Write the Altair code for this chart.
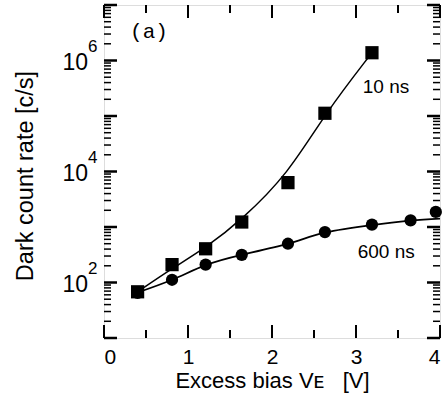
import altair as alt
import pandas as pd

# ---- data ----
bias_10ns = [0.40, 0.81, 1.21, 1.64, 2.19, 2.63, 3.19]
dcr_10ns = [68, 210, 405, 1230, 6300, 112000, 1380000]

bias_600ns = [0.40, 0.81, 1.21, 1.64, 2.19, 2.63, 3.19, 3.65, 3.95]
dcr_600ns = [65, 112, 210, 315, 500, 810, 1100, 1320, 1870]

# fitted curves
fit10_bias = [0.40, 0.81, 1.21, 1.64, 2.19, 2.63, 3.19]
fit10_dcr = [68, 180, 420, 1350, 9000, 110000, 1380000]
fit600_bias = [0.40, 0.81, 1.21, 1.64, 2.19, 2.63, 3.19, 3.65, 4.0]
fit600_dcr = [66, 112, 205, 315, 500, 790, 1080, 1300, 1420]

x_labels = [0, 1, 2, 3, 4]
x_major_ticks = [0, 1, 2, 3, 4]
x_minor_ticks = [0.5, 1.5, 2.5, 3.5]
y_decade_exps = [1, 2, 3, 4, 5, 6, 7]
y_minor_mult = [2, 3, 4, 5, 6, 7, 8, 9]
y_label_exps = [2, 4, 6]

annot_text = ["(a)", "10 ns", "600 ns"]
annot_x = [0.31, 3.08, 3.02]
annot_y = [3.3e6, 3.4e5, 350]

W, H = 336, 333
FONT = "Liberation Sans"

xscale = alt.Scale(domain=[0, 4], nice=False, zero=False)
yscale = alt.Scale(type="log", domain=[10, 1e7], nice=False)
xaxis = alt.Axis(values=x_labels, ticks=False, domain=False, grid=False,
                 labelFontSize=21, labelPadding=8, labelColor="black",
                 labelFont=FONT, format="d",
                 title="Excess bias V\u1d07\u00a0\u00a0 [V]", titleFontSize=22,
                 titleFont=FONT, titleFontWeight="normal", titleColor="black",
                 titlePadding=3)
yaxis = alt.Axis(labels=False, ticks=False, domain=False, grid=False,
                 title="Dark count rate [c/s]", titleFontSize=23.5,
                 titleFont=FONT, titleFontWeight="normal", titleColor="black",
                 titleX=-79, titleY=H / 2 + 4, titleAngle=-90,
                 titleAlign="center", titleBaseline="middle")

X = alt.X("x:Q", scale=xscale, axis=xaxis)
Y = alt.Y("y:Q", scale=yscale, axis=yaxis)

d10 = pd.DataFrame({"x": bias_10ns, "y": dcr_10ns})
d600 = pd.DataFrame({"x": bias_600ns, "y": dcr_600ns})
dfit10 = pd.DataFrame({"x": fit10_bias, "y": fit10_dcr})
dfit600 = pd.DataFrame({"x": fit600_bias, "y": fit600_dcr})

line10 = alt.Chart(dfit10).mark_line(color="black", strokeWidth=1.5,
                                     interpolate="basis").encode(x=X, y=Y)
line600 = alt.Chart(dfit600).mark_line(color="black", strokeWidth=1.8,
                                       interpolate="natural").encode(x=X, y=Y)
pts10 = alt.Chart(d10).mark_point(shape="square", filled=True, color="black",
                                  size=175, opacity=1).encode(x=X, y=Y)
pts600 = alt.Chart(d600).mark_point(shape="circle", filled=True, color="black",
                                    size=150, opacity=1).encode(x=X, y=Y)

# ticks (drawn inward on all four sides)
xt_major = pd.DataFrame({"x": x_major_ticks})
xt_minor = pd.DataFrame({"x": x_minor_ticks})
y_major_vals = [10.0 ** e for e in y_decade_exps]
y_minor_vals = [m * 10.0 ** e for e in y_decade_exps[:-1] for m in y_minor_mult]
yt_major = pd.DataFrame({"y": y_major_vals})
yt_minor = pd.DataFrame({"y": y_minor_vals})

def xticks(df, length):
    bot = alt.Chart(df).mark_rule(color="black", strokeWidth=2).encode(
        x=X, y=alt.value(H), y2=alt.value(H - length))
    top = alt.Chart(df).mark_rule(color="black", strokeWidth=2).encode(
        x=X, y=alt.value(0), y2=alt.value(length))
    return bot + top

def yticks(df, length, sw):
    left = alt.Chart(df).mark_rule(color="black", strokeWidth=sw).encode(
        y=Y, x=alt.value(0), x2=alt.value(length))
    right = alt.Chart(df).mark_rule(color="black", strokeWidth=sw).encode(
        y=Y, x=alt.value(W - length), x2=alt.value(W))
    return left + right

# y tick labels as 10 with superscript exponent
ylab = pd.DataFrame({"y": [10.0 ** e for e in y_label_exps],
                     "base": ["10"] * len(y_label_exps),
                     "exp": [str(e) for e in y_label_exps]})
ylab_base = alt.Chart(ylab).mark_text(align="right", baseline="middle",
                                      fontSize=23, font=FONT, color="black",
                                      dy=2).encode(
    y=Y, x=alt.value(-16), text="base:N")
ylab_exp = alt.Chart(ylab).mark_text(align="left", baseline="alphabetic",
                                     fontSize=17, font=FONT, color="black",
                                     dy=-9).encode(
    y=Y, x=alt.value(-16), text="exp:N")

a_df = pd.DataFrame({"x": annot_x[:1], "y": annot_y[:1], "t": annot_text[:1]})
n10_df = pd.DataFrame({"x": annot_x[1:2], "y": annot_y[1:2], "t": annot_text[1:2]})
n600_df = pd.DataFrame({"x": annot_x[2:], "y": annot_y[2:], "t": annot_text[2:]})
ann_a = alt.Chart(a_df).mark_text(align="left", baseline="middle",
                                  fontSize=21, font="Liberation Mono",
                                  color="black").encode(x=X, y=Y, text="t:N")
ann_10 = alt.Chart(n10_df).mark_text(align="left", baseline="middle",
                                     fontSize=19, font=FONT,
                                     color="black").encode(x=X, y=Y, text="t:N")
ann_600 = alt.Chart(n600_df).mark_text(align="left", baseline="middle",
                                       fontSize=19, font=FONT,
                                       color="black").encode(x=X, y=Y, text="t:N")

chart = alt.layer(
    line10, line600, pts10, pts600,
    xticks(xt_major, 13), xticks(xt_minor, 8),
    yticks(yt_major, 13, 2.5), yticks(yt_minor, 7, 1.5),
    ylab_base, ylab_exp, ann_a, ann_10, ann_600,
).properties(
    width=W, height=H,
    autosize=alt.AutoSizeParams(type="none"),
    padding={"left": 104, "top": 5, "right": 3, "bottom": 64},
    background="white",
).configure_view(
    stroke="black", strokeWidth=3
).configure(
    font=FONT
)

chart.save("out.html", embed_options={"renderer": "svg", "actions": False})
